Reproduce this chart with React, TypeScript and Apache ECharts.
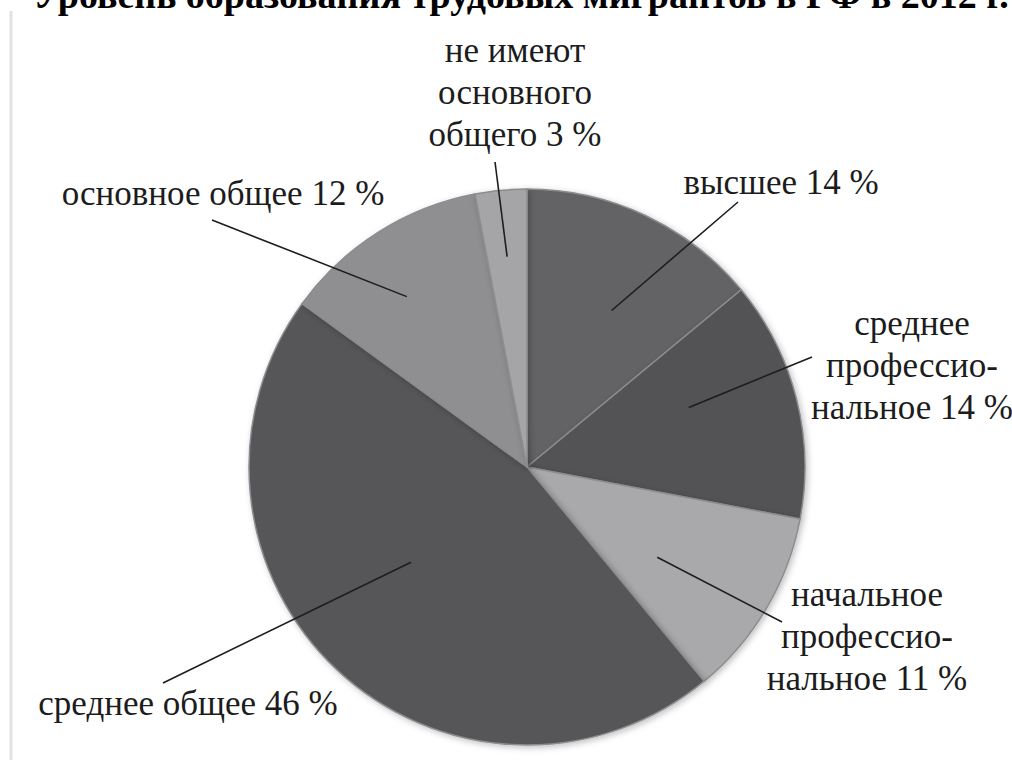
import React, { useEffect, useRef } from "react";
import * as echarts from "echarts";

// ---- data ----
const categories = [
  "высшее",
  "среднее профессиональное",
  "начальное профессиональное",
  "среднее общее",
  "основное общее",
  "не имеют основного общего",
];
const values = [14, 14, 11, 46, 12, 3];
// label text as broken into lines in the original figure
const labelNameLines = [
  ["высшее"],
  ["среднее", "профессио-", "нальное"],
  ["начальное", "профессио-", "нальное"],
  ["среднее общее"],
  ["основное общее"],
  ["не имеют", "основного", "общего"],
];
const titleText = "Уровень образования трудовых мигрантов в РФ в 2012 г.";

// ---- styles / layout ----
const sliceColors = ["#636265", "#535255", "#a9a8ab", "#565558", "#8f8e91", "#a5a4a7"];
const CENTER = [527, 467];
const RADIUS = 278;
const LINE_H = 42;
// label block centres (px)
const labelAnchors = [
  [781, 182],
  [912, 365],
  [867, 636],
  [188, 703],
  [223, 193],
  [515, 92],
];
// inner end of leader line: [angle deg (math, ccw from +x), fraction of radius]
const lineInner = [
  [61.6, 0.64],
  [20.2, 0.62],
  [-34.7, 0.57],
  [219.4, 0.54],
  [125.2, 0.75],
  [95.4, 0.76],
];
// outer end of leader line (px)
const lineOuter = [
  [738, 202],
  [812, 357],
  [782, 622],
  [163, 683],
  [212, 220],
  [495, 162],
];

const LABEL_FONT = "normal 35px serif";
const TITLE_FONT = "bold 38px 'Liberation Serif'";

function labelLines(i: number) {
  const lines = labelNameLines[i].slice();
  lines[lines.length - 1] = lines[lines.length - 1] + " " + values[i] + " %";
  return lines;
}

export default function App() {
  const ref = useRef<HTMLDivElement>(null);
  useEffect(() => {
    if (!ref.current) return;
    const chart = echarts.init(ref.current, undefined, { renderer: "svg" });

    const leaderLines = categories.map((_, i) => {
      const [ang, frac] = lineInner[i];
      const a = (ang * Math.PI) / 180;
      return {
        type: "line",
        z: 100,
        silent: true,
        shape: {
          x1: CENTER[0] + Math.cos(a) * RADIUS * frac,
          y1: CENTER[1] - Math.sin(a) * RADIUS * frac,
          x2: lineOuter[i][0],
          y2: lineOuter[i][1],
        },
        style: { stroke: "#1e1e1e", lineWidth: 1.6 },
      };
    });
    const labels: any[] = [];
    categories.forEach((_, i) => {
      const lines = labelLines(i);
      lines.forEach((line, k) => {
        labels.push({
          type: "text",
          z: 100,
          silent: true,
          x: labelAnchors[i][0],
          y: labelAnchors[i][1] + (k - (lines.length - 1) / 2) * LINE_H,
          style: {
            text: line,
            font: LABEL_FONT,
            fill: "#1c1c1c",
            align: "center",
            verticalAlign: "middle",
          },
        });
      });
    });

    chart.setOption({
      animation: false,
      backgroundColor: "#ffffff",
      graphic: [
        {
          type: "text",
          x: 33,
          y: -24,
          silent: true,
          style: {
            text: titleText,
            font: TITLE_FONT,
            fill: "#000000",
            verticalAlign: "top",
          },
        },
        {
          type: "line",
          silent: true,
          shape: { x1: 11, y1: 11, x2: 11, y2: 760 },
          style: { stroke: "#e2e2e2", lineWidth: 3 },
        },
        ...leaderLines,
        ...labels,
      ],
      series: [
        {
          type: "pie",
          center: CENTER,
          radius: RADIUS,
          startAngle: 90,
          clockwise: true,
          silent: true,
          data: categories.map((name, i) => ({
            name,
            value: values[i],
            itemStyle: { color: sliceColors[i] },
          })),
          itemStyle: {
            borderColor: "#8d8c90",
            borderWidth: 1.5,
            shadowBlur: 6,
            shadowColor: "rgba(0,0,0,0.25)",
            shadowOffsetX: 2,
            shadowOffsetY: 2,
          },
          label: { show: false },
          labelLine: { show: false },
          emphasis: { disabled: true },
        },
      ],
    });
    return () => chart.dispose();
  }, []);
  return (
    <div
      ref={ref}
      style={{ position: "fixed", left: 0, top: 0, width: 1012, height: 760 }}
    />
  );
}
